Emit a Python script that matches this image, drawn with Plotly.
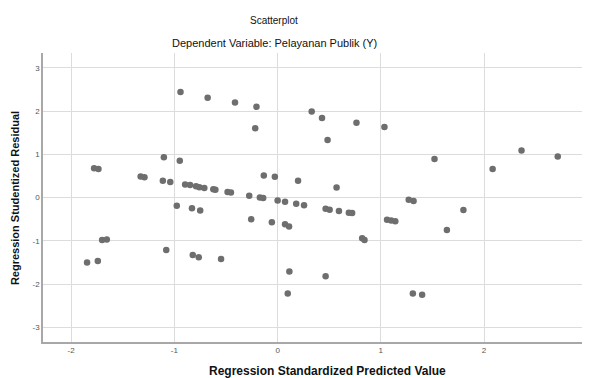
import plotly.graph_objects as go

pred = [-0.941, -1.778, -1.736, -1.102, -0.948, -1.327, -1.290, -1.112, -1.040,
        -0.896, -0.848, -0.790, -0.758, -0.710, -0.623, -0.603, -0.485, -0.452,
        -0.275, -0.172, -0.140, -0.977, -0.830, -0.750, -1.700, -1.655, -1.079,
        -1.846, -1.742, -0.822, -0.764,
        -0.678, -0.413, -0.205, -0.217, 0.330, 0.430, 0.484, 0.764, 1.035,
        -0.134, -0.027, 0.198, 0.571,
        0.000, 0.072, 0.180, 0.256, 0.465, 0.504, 0.594, 0.690, 0.722,
        1.060, 1.100, 1.140, -0.256, -0.056, 0.072, 0.111, 0.819, 0.842,
        -0.548, 0.114, 0.465, 0.098,
        1.520, 2.083, 2.363, 2.714, 1.270, 1.317, 1.800, 1.640, 1.310, 1.400]
resid = [2.44, 0.68, 0.66, 0.93, 0.85, 0.485, 0.47, 0.39, 0.36,
         0.30, 0.29, 0.26, 0.24, 0.22, 0.19, 0.18, 0.13, 0.115,
         0.04, 0.00, -0.01, -0.19, -0.245, -0.30, -0.98, -0.97, -1.21,
         -1.50, -1.47, -1.33, -1.38,
         2.31, 2.20, 2.10, 1.60, 1.99, 1.84, 1.33, 1.73, 1.63,
         0.51, 0.48, 0.39, 0.23,
         -0.07, -0.10, -0.145, -0.176, -0.26, -0.28, -0.31, -0.35, -0.36,
         -0.515, -0.53, -0.55, -0.50, -0.57, -0.615, -0.67, -0.94, -0.98,
         -1.42, -1.71, -1.82, -2.22,
         0.89, 0.66, 1.085, 0.95, -0.05, -0.08, -0.29, -0.75, -2.22, -2.25]

x_ticks = [-2, -1, 0, 1, 2, 3]
y_ticks = [-3, -2, -1, 0, 1, 2, 3]
title = "Scatterplot"
subtitle = "Dependent Variable: Pelayanan Publik (Y)"
x_title = "Regression Standardized Predicted Value"
y_title = "Regression Studentized Residual"

# page offset from the default 8px body margin
OFF = 8
W, H = 590 - OFF, 378 - OFF
L, R, T, B = 43 - OFF, 0, 53 - OFF, 36

fig = go.Figure()
fig.add_trace(go.Scatter(
    x=pred, y=resid, mode="markers",
    marker=dict(size=6.5, color="#6e6e6e", line=dict(width=0)),
    showlegend=False, hoverinfo="x+y"))

axis_common = dict(
    showgrid=True, gridcolor="#dcdcdc", gridwidth=1,
    zeroline=False, showline=True, linecolor="#a8a8a8", linewidth=1.5,
    ticks="", ticklabeloverflow="allow",
    tickfont=dict(family="Liberation Sans, Arial", size=8, color="#555555"),
)
fig.update_xaxes(range=[-2.273, 3.007], tickvals=x_ticks, ticktext=[str(v) for v in x_ticks],
                 **axis_common)
fig.update_yaxes(range=[-3.34, 3.342], tickvals=y_ticks, ticktext=[str(v) for v in y_ticks],
                 **axis_common)

pw = W - L - R
ph = H - T - B

def ax(page_x):
    return (page_x - OFF - L) / pw

def ay(page_y):
    return ((H - (page_y - OFF)) - B) / ph

annos = [
    dict(text=title, x=ax(275), y=ay(20), font=dict(size=10)),
    dict(text=subtitle, x=ax(275), y=ay(43), font=dict(size=11)),
    dict(text="<b>" + x_title + "</b>", x=ax(329), y=ay(371), font=dict(size=12)),
    dict(text="<b>" + y_title + "</b>", x=ax(15), y=ay(198), font=dict(size=11), textangle=-90),
]
for a in annos:
    a.update(xref="paper", yref="paper", showarrow=False, xanchor="center", yanchor="middle")
    a["font"].update(family="Liberation Sans, Arial", color="#111111")
fig.update_layout(annotations=annos)

fig.update_layout(
    width=W, height=H,
    margin=dict(l=L, r=R, t=T, b=B, pad=0),
    paper_bgcolor="white", plot_bgcolor="white",
    font=dict(family="Liberation Sans, Arial"),
)
fig.write_html("out.html")
